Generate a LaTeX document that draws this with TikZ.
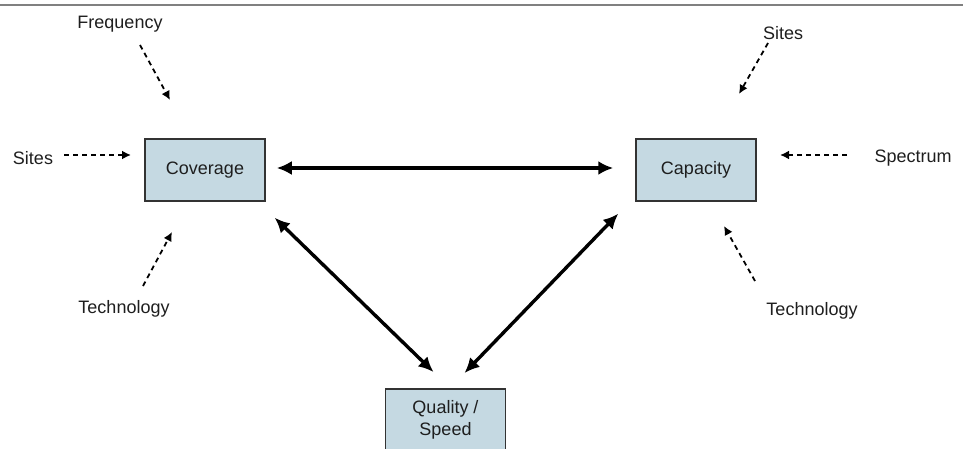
\documentclass[tikz,border=0pt]{standalone}
\usepackage{fontspec}
\setmainfont{Liberation Sans}
\usetikzlibrary{arrows.meta}
\definecolor{boxfill}{RGB}{197,217,226}
\definecolor{boxline}{RGB}{51,51,51}
\definecolor{inkgray}{RGB}{30,30,30}
\tikzset{
  factor/.style = {draw = boxline, line width = 1.5pt, fill = boxfill,
    minimum width = 120pt, minimum height = 62pt, align = center,
    text = inkgray, font = \fontsize{18}{22}\selectfont},
  driver/.style = {text = inkgray, yshift = -2pt, font = \fontsize{18}{22}\selectfont},
  linkarrow/.style = {line width = 3.4pt, {Latex[length=15pt,width=14pt]}-{Latex[length=15pt,width=14pt]}},
  hintarrow/.style = {line width = 1.8pt, dash pattern = on 5pt off 4pt, -{Latex[length=9pt,width=9pt]}}
}
\begin{document}
\begin{tikzpicture}[x = 1pt, y = -1pt]
  \useasboundingbox (0,0) rectangle (968,449);
  \draw [gray, line width = 1.5pt] (0,5) -- (963,5);

  \node [factor] (cov) at (205,170) {\raisebox{-2pt}{Coverage}};
  \node [factor] (cap) at (696,170) {\raisebox{-2pt}{Capacity}};
  \node [factor, anchor = north] (qual) at (445.5,388) {Quality /\\Speed};

  \node [driver] (freq) at (120,22) {Frequency};
  \node [driver] (sitesl) at (33,156) {Sites};
  \node [driver] (techl) at (124,307) {Technology};
  \node [driver] (sitesr) at (783,31) {Sites};
  \node [driver] (spec) at (913,156) {Spectrum};
  \node [driver] (techr) at (812,309) {Technology};

  % free ends of the dashed hints
  \coordinate (freq1) at (140,45);  \coordinate (freq2) at (170,100);
  \coordinate (sitesl1) at (64,155); \coordinate (sitesl2) at (131,155);
  \coordinate (techl1) at (143,286); \coordinate (techl2) at (172,232);
  \coordinate (sitesr1) at (768,43); \coordinate (sitesr2) at (739,94);
  \coordinate (spec1) at (847,155);  \coordinate (spec2) at (780,155);
  \coordinate (techr1) at (755,281); \coordinate (techr2) at (724,226);

  \foreach \a in {freq, sitesl, techl, sitesr, spec, techr}
    \draw [hintarrow] (\a1) -- (\a2);

  \draw [linkarrow] ([shift={(11,-2)}]cov.east) -- ([shift={(-22,-2)}]cap.west);
  \draw [linkarrow] ([shift={(9,16)}]cov.south east) -- ([shift={(-12,-16)}]qual.north);
  \draw [linkarrow] ([shift={(-17,12)}]cap.south west) -- ([shift={(19,-15)}]qual.north);
\end{tikzpicture}
\end{document}
